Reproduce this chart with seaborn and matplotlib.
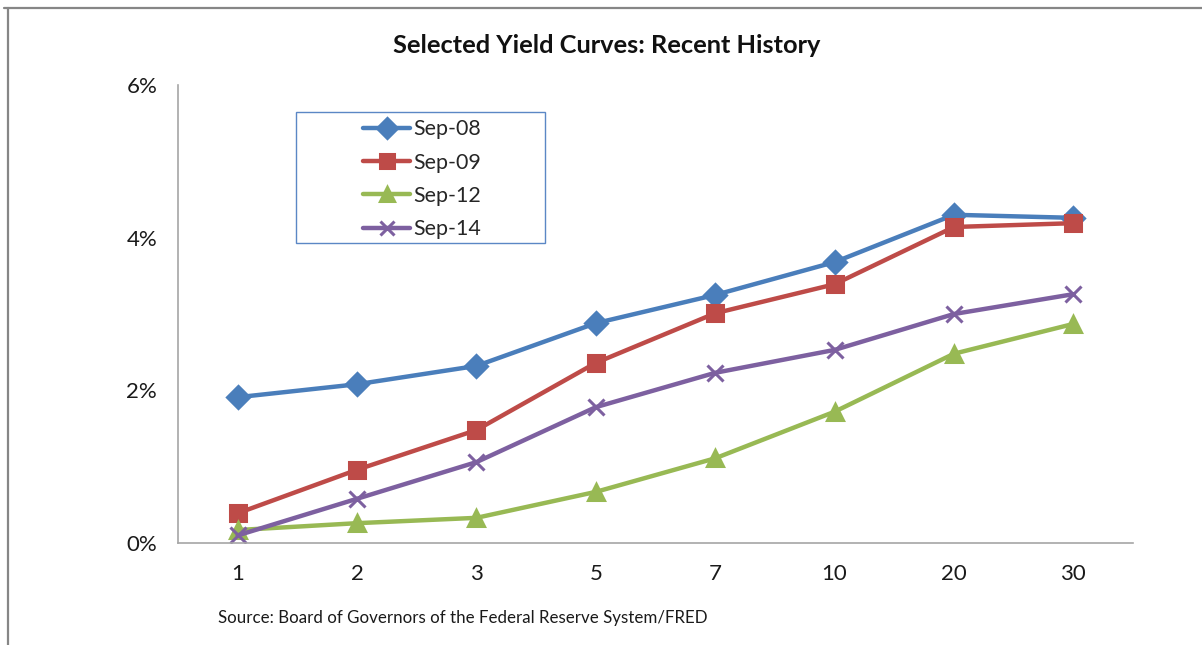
import matplotlib
matplotlib.use("Agg")
import matplotlib.pyplot as plt
from matplotlib.lines import Line2D
from matplotlib.patches import Rectangle
import seaborn as sns
import numpy as np
import pandas as pd

# maturities in years (category axis)
maturities = ["1", "2", "3", "5", "7", "10", "20", "30"]

# yields in percent
sep_08 = [1.91, 2.08, 2.32, 2.88, 3.25, 3.68, 4.30, 4.26]
sep_09 = [0.39, 0.96, 1.48, 2.36, 3.01, 3.39, 4.14, 4.19]
sep_12 = [0.17, 0.26, 0.33, 0.67, 1.11, 1.72, 2.48, 2.87]
sep_14 = [0.10, 0.58, 1.06, 1.78, 2.23, 2.53, 3.00, 3.26]

series_names = ["Sep-08", "Sep-09", "Sep-12", "Sep-14"]
series_values = [sep_08, sep_09, sep_12, sep_14]

y_ticks = [0, 2, 4, 6]

rows = []
for name, vals in zip(series_names, series_values):
    for pos, v in enumerate(vals):
        rows.append({"pos": pos, "yield": v, "curve": name})
df = pd.DataFrame(rows)

sns.set_style("white")
plt.rcParams["font.family"] = ["Lato", "DejaVu Sans"]

palette = {"Sep-08": "#4A7EBB", "Sep-09": "#BE4B48", "Sep-12": "#98B954", "Sep-14": "#7D60A0"}
markers = {"Sep-08": "D", "Sep-09": "s", "Sep-12": "^", "Sep-14": "x"}

fig = plt.figure(figsize=(12.02, 6.45), dpi=100)
ax = fig.add_axes([0.1481, 0.1581, 0.7945, 0.7101])

# one call per curve, since seaborn won't mix filled and line-art markers
for name in series_names:
    sub = df[df["curve"] == name]
    sns.lineplot(data=sub, x="pos", y="yield", color=palette[name],
                 marker=markers[name], markersize=11, markeredgewidth=2.2,
                 markerfacecolor=palette[name], markeredgecolor=palette[name],
                 linewidth=3.2, sort=False, ax=ax, label=name, legend=False)

ax.set_xlim(-0.5, len(maturities) - 0.5)
ax.set_ylim(0, 6)
ax.set_xlabel("")
ax.set_ylabel("")

ax.set_xticks(np.arange(len(maturities)))
ax.set_xticklabels(maturities)
ax.set_xticks(np.arange(len(maturities) + 1) - 0.5, minor=True)
ax.tick_params(axis="x", which="major", length=0, pad=15, labelsize=16, labelcolor="#1a1a1a")
ax.tick_params(axis="x", which="minor", length=6, width=1.2, direction="out", color="#a6a6a6")

ax.set_yticks(y_ticks)
ax.set_yticklabels([f"{v}%" for v in y_ticks])
ax.tick_params(axis="y", length=6, width=1.2, direction="out", color="#a6a6a6",
               pad=9, labelsize=16, labelcolor="#1a1a1a")

for side in ["top", "right"]:
    ax.spines[side].set_visible(False)
for side in ["left", "bottom"]:
    ax.spines[side].set_color("#a6a6a6")
    ax.spines[side].set_linewidth(1.2)

# legend
handles = [Line2D([0], [0], color=palette[n], marker=markers[n], lw=3.2, ms=10,
                  mew=2.2, mfc=palette[n], mec=palette[n]) for n in series_names]
ax.legend(handles, series_names, loc="upper left", bbox_to_anchor=(0.194, 0.925),
          frameon=False, fontsize=15.4, handlelength=2.2, handletextpad=0.15,
          labelspacing=0.62, borderpad=0, borderaxespad=0)
ax.add_patch(Rectangle((0.1236, 0.655), 0.2607, 0.286, transform=ax.transAxes,
                       fill=False, edgecolor="#5b87c5", linewidth=1, clip_on=False))

fig.text(0.505, 0.930, "Selected Yield Curves: Recent History", ha="center",
         va="center", fontsize=18.3, fontweight="bold", color="#111111")
fig.text(0.181, 0.042, "Source: Board of Governors of the Federal Reserve System/FRED",
         ha="left", va="center", fontsize=12.2, color="#1a1a1a")

# outer chart border (top and left edges only)
fig.add_artist(Line2D([0.003, 1.0], [0.988, 0.988], transform=fig.transFigure,
                      color="#868686", linewidth=1.6))
fig.add_artist(Line2D([0.0065, 0.0065], [0.0, 0.988], transform=fig.transFigure,
                      color="#868686", linewidth=1.6))

fig.savefig("out.png", dpi=100)
